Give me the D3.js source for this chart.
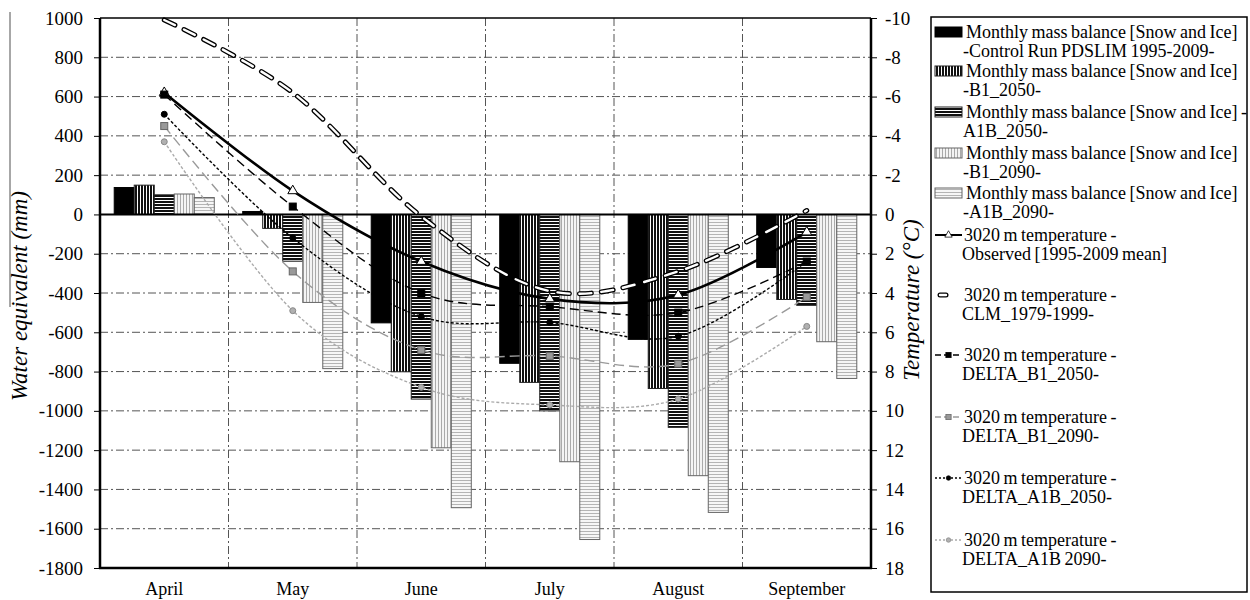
<!DOCTYPE html>
<html>
<head>
<meta charset="utf-8">
<script src="https://cdn.jsdelivr.net/npm/d3@7"></script>
<style>
  body { margin: 0; background: #fff; }
  text { font-family: "Liberation Serif", "Times New Roman", serif; fill: #000; }
</style>
</head>
<body>
<div id="chart"></div>
<script>
// categories
var months = ["April", "May", "June", "July", "August", "September"];

// monthly mass balance (mm w.e.)
var mbControl = [137, 15, -552, -758, -636, -270];
var mbB1_2050 = [149, -71, -801, -855, -886, -433];
var mbA1B_2050 = [100, -238, -940, -1000, -1084, -463];
var mbB1_2090 = [104, -448, -1188, -1259, -1330, -648];
var mbA1B_2090 = [86, -785, -1493, -1655, -1517, -835];

// 3020 m temperature (deg C)
var tObserved = [-6.2, -1.2, 2.4, 4.3, 4.1, 0.9];
var tCLM = [-9.9, -6.2, 0.1, 3.9, 2.9, -0.2];
var tB1_2050 = [-6.1, -0.4, 4.0, 4.7, 5.0, 2.4];
var tB1_2090 = [-4.5, 2.9, 6.9, 7.2, 7.6, 4.2];
var tA1B_2050 = [-5.1, 1.2, 5.2, 5.5, 6.2, 2.4];
var tA1B_2090 = [-3.7, 4.9, 8.8, 9.7, 9.4, 5.7];

// axis ticks
var leftTicks = d3.range(-1800, 1001, 200);
var rightTicks = d3.range(-10, 19, 2);

// legend labels
var barLabels = [
  ["Monthly mass balance [Snow and Ice]", " -Control Run PDSLIM 1995-2009-"],
  ["Monthly mass balance [Snow and Ice]", " -B1_2050-"],
  ["Monthly mass balance [Snow and Ice] -", "A1B_2050-"],
  ["Monthly mass balance [Snow and Ice]", "-B1_2090-"],
  ["Monthly mass balance [Snow and Ice]", "-A1B_2090-"]
];
var lineLabels = [
  ["3020 m temperature -", "Observed [1995-2009 mean]"],
  ["3020 m temperature -", "CLM_1979-1999-"],
  ["3020 m temperature -", "DELTA_B1_2050-"],
  ["3020 m temperature -", "DELTA_B1_2090-"],
  ["3020 m temperature -", "DELTA_A1B_2050-"],
  ["3020 m temperature -", "DELTA_A1B 2090-"]
];

var W = 1250, H = 600;
var plot = {left: 100, right: 871, top: 18, bottom: 568};

var svg = d3.select("#chart")
  .append("svg")
    .attr("width", W)
    .attr("height", H);

// stripe patterns for the bars
var defs = svg.append("defs");
function stripes(id, dir, bg, fg, w) {
  var p = defs.append("pattern")
    .attr("id", id)
    .attr("patternUnits", "userSpaceOnUse")
    .attr("width", 3)
    .attr("height", 3);
  p.append("rect").attr("width", 3).attr("height", 3).attr("fill", bg);
  if (dir == "v") p.append("rect").attr("width", w).attr("height", 3).attr("fill", fg);
  else p.append("rect").attr("width", 3).attr("height", w).attr("fill", fg);
}
stripes("darkV", "v", "#fff", "#111", 2);
stripes("darkH", "h", "#fff", "#111", 2);
stripes("lightV", "v", "#f4f4f4", "#aaa", 1);
stripes("lightH", "h", "#f6f6f6", "#b4b4b4", 1);

var barSeries = [
  {values: mbControl, fill: "#000", stroke: "#000"},
  {values: mbB1_2050, fill: "url(#darkV)", stroke: "#222"},
  {values: mbA1B_2050, fill: "url(#darkH)", stroke: "#222"},
  {values: mbB1_2090, fill: "url(#lightV)", stroke: "#666"},
  {values: mbA1B_2090, fill: "url(#lightH)", stroke: "#666"}
];

var lineSeries = [
  {values: tObserved, color: "#000", width: 2.6, dash: null, marker: "tri"},
  {values: tCLM, color: "#000", width: 5, dash: "12,10", marker: "clm"},
  {values: tB1_2050, color: "#000", width: 1.4, dash: "9,5", marker: "sqB"},
  {values: tB1_2090, color: "#9a9a9a", width: 1.4, dash: "10,5", marker: "sqG"},
  {values: tA1B_2050, color: "#000", width: 1.4, dash: "3,2", marker: "ciB"},
  {values: tA1B_2090, color: "#aaa", width: 1.4, dash: "3,2", marker: "ciG"}
];

// scales
var x0 = d3.scaleBand()
  .domain(months)
  .range([plot.left, plot.right]);
var x1 = d3.scaleBand()
  .domain(d3.range(barSeries.length))
  .range([0, x0.bandwidth()])
  .paddingOuter(0.71);
var yL = d3.scaleLinear()
  .domain([-1800, 1000])
  .range([plot.bottom, plot.top]);
var yR = d3.scaleLinear()
  .domain([-10, 18])
  .range([plot.top, plot.bottom]);

// gridlines (dash-dot)
var grid = svg.append("g")
  .attr("stroke", "#555")
  .attr("stroke-width", 1)
  .attr("stroke-dasharray", "8,3,2,3");
grid.selectAll(".hg")
  .data(leftTicks.filter(function(d) { return d != 0 && d != 1000 && d != -1800; }))
  .enter().append("line")
    .attr("x1", plot.left).attr("x2", plot.right)
    .attr("y1", function(d) { return yL(d); })
    .attr("y2", function(d) { return yL(d); });
grid.selectAll(".vg")
  .data(months.slice(1))
  .enter().append("line")
    .attr("x1", function(d) { return x0(d); })
    .attr("x2", function(d) { return x0(d); })
    .attr("y1", plot.top).attr("y2", plot.bottom);

// bars
barSeries.forEach(function(s, i) {
  svg.append("g").selectAll("rect")
    .data(s.values)
    .enter().append("rect")
      .attr("x", function(d, j) { return x0(months[j]) + x1(i); })
      .attr("width", x1.bandwidth())
      .attr("y", function(d) { return yL(Math.max(0, d)); })
      .attr("height", function(d) { return Math.abs(yL(d) - yL(0)); })
      .attr("fill", s.fill)
      .attr("stroke", s.stroke)
      .attr("stroke-width", 1);
});

// zero line
svg.append("line")
  .attr("x1", plot.left).attr("x2", plot.right)
  .attr("y1", yL(0)).attr("y2", yL(0))
  .attr("stroke", "#000").attr("stroke-width", 2);

// temperature lines
var line = d3.line()
  .x(function(d, j) { return x0(months[j]) + x0.bandwidth() / 2; })
  .y(function(d) { return yR(d); })
  .curve(d3.curveCatmullRom.alpha(0));

function drawMarker(g, type, x, y) {
  if (type == "tri") {
    g.append("path").attr("d", d3.symbol(d3.symbolTriangle, 42)())
      .attr("transform", "translate(" + x + "," + y + ")")
      .attr("fill", "#fff").attr("stroke", "#000").attr("stroke-width", 1);
  } else if (type == "sqB" || type == "sqG") {
    g.append("rect").attr("x", x - 3.5).attr("y", y - 3.5).attr("width", 7).attr("height", 7)
      .attr("fill", type == "sqB" ? "#000" : "#999")
      .attr("stroke", type == "sqB" ? "#000" : "#666").attr("stroke-width", 1);
  } else if (type == "ciB" || type == "ciG") {
    g.append("circle").attr("cx", x).attr("cy", y).attr("r", 3)
      .attr("fill", type == "ciB" ? "#000" : "#b0b0b0")
      .attr("stroke", type == "ciB" ? "#000" : "#888").attr("stroke-width", 1);
  }
}

lineSeries.forEach(function(s) {
  var g = svg.append("g");
  g.append("path")
    .datum(s.values)
    .attr("d", line)
    .attr("fill", "none")
    .attr("stroke", s.color)
    .attr("stroke-width", s.width)
    .attr("stroke-linecap", s.marker == "clm" ? "round" : "butt")
    .attr("stroke-dasharray", s.dash);
  if (s.marker == "clm") {
    // hollow double-stroke dashes
    g.append("path")
      .datum(s.values)
      .attr("d", line)
      .attr("fill", "none")
      .attr("stroke", "#fff")
      .attr("stroke-width", 2.4)
      .attr("stroke-linecap", "round")
      .attr("stroke-dasharray", s.dash);
  }
  s.values.forEach(function(d, j) {
    drawMarker(g, s.marker, x0(months[j]) + x0.bandwidth() / 2, yR(d));
  });
});

// axes
var fmt = function(d) { return String(d); };
var axL = svg.append("g")
  .attr("transform", "translate(" + plot.left + ",0)")
  .call(d3.axisLeft(yL).tickValues(leftTicks).tickFormat(fmt).tickSize(6).tickPadding(11));
var axR = svg.append("g")
  .attr("transform", "translate(" + plot.right + ",0)")
  .call(d3.axisRight(yR).tickValues(rightTicks).tickFormat(fmt).tickSize(6).tickPadding(8));
var axB = svg.append("g")
  .attr("transform", "translate(0," + plot.bottom + ")")
  .call(d3.axisBottom(x0).tickSize(0).tickPadding(14));
[axL, axR, axB].forEach(function(a) {
  a.select(".domain").remove();
  a.selectAll("text").style("font-size", "19px").style("font-family", "'Liberation Serif', serif");
  a.selectAll("line").attr("stroke", "#000").attr("stroke-width", 1);
});
axB.selectAll("text").style("font-size", "18px");

// plot frame
svg.append("line").attr("x1", plot.left).attr("x2", plot.right).attr("y1", plot.top).attr("y2", plot.top)
  .attr("stroke", "#000").attr("stroke-width", 1.5);
svg.append("line").attr("x1", plot.left).attr("x2", plot.left).attr("y1", plot.top).attr("y2", plot.bottom)
  .attr("stroke", "#000").attr("stroke-width", 2.5);
svg.append("line").attr("x1", plot.right).attr("x2", plot.right).attr("y1", plot.top).attr("y2", plot.bottom)
  .attr("stroke", "#000").attr("stroke-width", 2.5);
svg.append("line").attr("x1", plot.left - 1).attr("x2", plot.right + 1).attr("y1", plot.bottom).attr("y2", plot.bottom)
  .attr("stroke", "#000").attr("stroke-width", 2.5);

// stray grey rule at the far left of the original
svg.append("line").attr("x1", 10).attr("x2", 10).attr("y1", 12).attr("y2", 307)
  .attr("stroke", "#8a8a8a").attr("stroke-width", 1.5);

// axis titles
svg.append("text")
  .attr("transform", "translate(27,296) rotate(-90)")
  .attr("text-anchor", "middle")
  .style("font-size", "23px")
  .style("font-style", "italic")
  .text("Water equivalent (mm)");
svg.append("text")
  .attr("transform", "translate(919,300) rotate(-90)")
  .attr("text-anchor", "middle")
  .style("font-size", "23px")
  .style("font-style", "italic")
  .text("Temperature (\u00B0C)");

// legend
var lg = svg.append("g");
lg.append("rect")
  .attr("x", 931).attr("y", 17).attr("width", 316).attr("height", 575)
  .attr("fill", "#fff").attr("stroke", "#000").attr("stroke-width", 1.5);

var barRows = [32, 71, 112, 153, 193];
var lineRows = [235, 295, 355, 417, 478, 540];

barSeries.forEach(function(s, i) {
  var y = barRows[i];
  lg.append("rect").attr("x", 935).attr("y", y - 5).attr("width", 27).attr("height", 10)
    .attr("fill", s.fill).attr("stroke", s.stroke).attr("stroke-width", 1);
  lg.append("text").attr("x", 966).attr("y", y).attr("dy", "0.35em")
    .style("font-size", "18px").style("word-spacing", "-1px").text(barLabels[i][0]);
  lg.append("text").attr("x", 963).attr("y", y + 19).attr("dy", "0.35em")
    .style("font-size", "18px").style("word-spacing", "-1px").text(barLabels[i][1]);
});

lineSeries.forEach(function(s, i) {
  var y = lineRows[i];
  if (s.marker == "clm") {
    lg.append("line").attr("x1", 940).attr("x2", 946).attr("y1", y).attr("y2", y)
      .attr("stroke", "#000").attr("stroke-width", 5).attr("stroke-linecap", "round");
    lg.append("line").attr("x1", 940).attr("x2", 946).attr("y1", y).attr("y2", y)
      .attr("stroke", "#fff").attr("stroke-width", 2.4).attr("stroke-linecap", "round");
  } else {
    lg.append("line").attr("x1", 935).attr("x2", 962).attr("y1", y).attr("y2", y)
      .attr("stroke", s.color).attr("stroke-width", Math.min(s.width, 2))
      .attr("stroke-dasharray", s.dash ? (s.dash == "3,2" ? "2,2" : "6,3") : null);
    var m = lg.append("g");
    drawMarker(m, s.marker, 948.5, y);
    m.attr("transform", "translate(948.5," + y + ") scale(0.75) translate(-948.5," + (-y) + ")");
  }
  lg.append("text").attr("x", 964).attr("y", y).attr("dy", "0.35em")
    .style("font-size", "18px").style("word-spacing", "-1px").text(lineLabels[i][0]);
  lg.append("text").attr("x", 962).attr("y", y + 19).attr("dy", "0.35em")
    .style("font-size", "18px").style("word-spacing", "-1px").text(lineLabels[i][1]);
});
</script>
</body>
</html>
